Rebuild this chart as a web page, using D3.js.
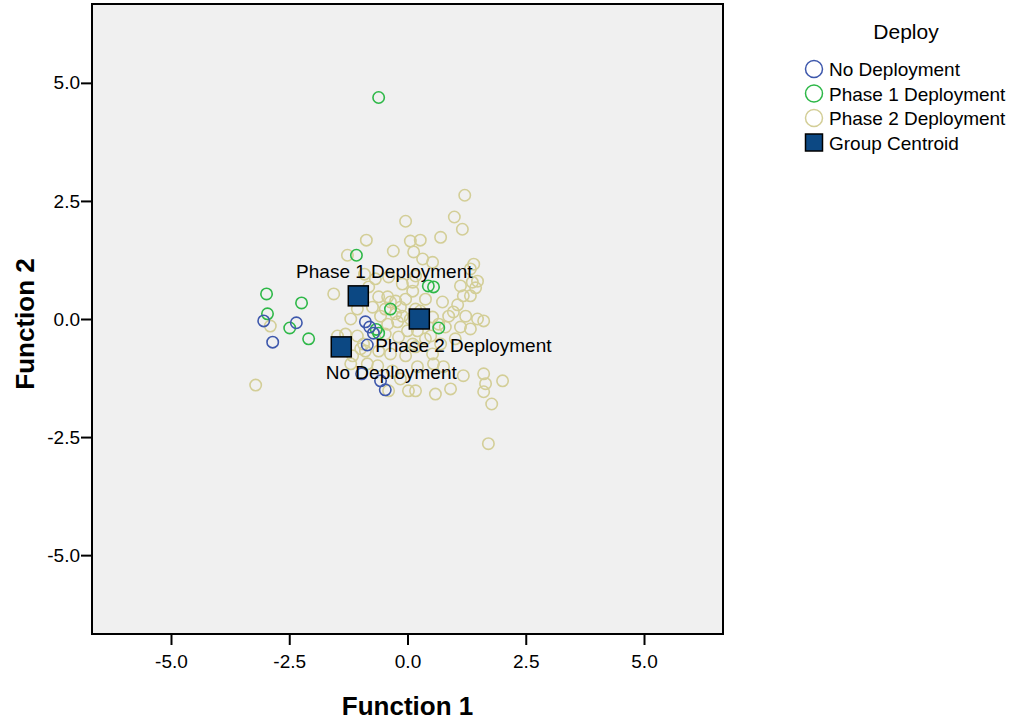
<!DOCTYPE html>
<html>
<head>
<meta charset="utf-8">
<script src="https://cdn.jsdelivr.net/npm/d3@7"></script>
<style>
  body { margin: 0; background: #fff; }
  text { font-family: Arial, 'Liberation Sans', sans-serif; }
</style>
</head>
<body>
<div id="chart"></div>
<script>
// discriminant scores, [function 1, function 2]
let noDeployment = [
  [-3.04, -0.04], [-2.85, -0.49], [-2.35, -0.08], [-0.89, -0.06], [-0.8, -0.17],
  [-0.72, -0.3], [-0.85, -0.55], [-0.97, -1.16], [-0.57, -1.31], [-0.47, -1.5]
]

let phase1 = [
  [-0.61, 4.69], [-1.08, 1.35], [-2.98, 0.53], [-2.24, 0.34], [-2.96, 0.11],
  [-2.49, -0.19], [-2.09, -0.42], [-0.36, 0.21], [0.44, 0.7], [0.55, 0.68],
  [-0.61, -0.3], [-0.66, -0.22], [0.66, -0.19]
]

let phase2 = [
  [1.21, 2.62], [0.99, 2.16], [1.16, 1.9], [-0.04, 2.07], [0.7, 1.73],
  [0.06, 1.65], [0.27, 1.67], [-0.87, 1.67], [-0.3, 1.44], [0.13, 1.42],
  [0.32, 1.27], [0.53, 1.2], [-1.27, 1.35], [-0.91, 0.95], [1.4, 1.16],
  [1.33, 1.06], [1.48, 0.8], [1.37, 0.78], [1.12, 0.7], [1.44, 0.66],
  [1.33, 0.49], [1.18, 0.49], [-1.56, 0.53], [-0.82, 0.68], [-0.68, 0.85],
  [-0.11, 0.74], [0.17, 0.91], [0.11, 0.59], [-0.42, 0.47], [-0.25, 0.38],
  [-0.36, 0.36], [-0.15, 0.25], [0.17, 0.21], [-0.11, 0.06], [-0.21, -0.06],
  [-0.42, -0.11], [-0.57, 0.06], [-0.74, 0.25], [-1.06, 0.21], [-1.2, 0.0],
  [-1.31, -0.32], [-0.47, -0.32], [0.0, -0.25], [0.38, 0.42], [0.74, 0.36],
  [0.97, 0.15], [0.87, 0.06], [1.23, 0.06], [1.48, 0.0], [1.61, -0.04],
  [1.12, -0.17], [1.33, -0.21], [0.8, -0.17], [0.49, -0.36], [0.21, -0.25],
  [-2.9, -0.15], [-3.21, -1.4], [-1.48, -0.36], [-1.06, -0.36], [-1.16, -0.78],
  [-0.89, -0.68], [-1.2, -0.95], [-0.93, -0.53], [-0.99, -0.63], [-0.85, -0.95],
  [-0.63, -0.99], [-0.32, -1.1], [-0.4, -1.52], [0.02, -1.52], [0.17, -1.52],
  [0.21, -1.01], [-0.04, -0.78], [0.17, -0.59], [0.53, -0.74], [0.55, -0.95],
  [0.76, -1.01], [1.18, -1.2], [1.61, -1.16], [1.65, -1.37], [1.61, -1.54],
  [1.78, -1.8], [2.01, -1.31], [0.59, -1.59], [0.91, -1.48], [1.71, -2.64],
  [0.11, 0.78], [-0.25, 0.11], [0.06, 0.0], [0.27, 0.17], [0.53, 0.04],
  [0.66, -0.11], [0.38, -0.42], [0.11, -0.53], [-0.19, -0.38], [-0.36, -0.74],
  [0.7, -0.53], [1.01, -0.42], [-0.47, 0.21], [-0.61, 0.47], [-0.04, 0.42],
  [-0.4, 0.89], [1.06, 0.3], [-0.61, -0.68], [-0.15, -1.27]
]

let groups = ['No Deployment', 'Phase 1 Deployment', 'Phase 2 Deployment']
let groupColors = ['#3e58ac', '#2eb848', '#d3ce97']
let centroidX = [-1.4, -1.04, 0.25]
let centroidY = [-0.59, 0.49, 0.0]
let tickValues = [-5, -2.5, 0, 2.5, 5]

let margin = { top: 4, left: 92, right: 292, bottom: 87 }
let width = 1015 - margin.left - margin.right
let height = 721 - margin.top - margin.bottom

let svg = d3
  .select('#chart')
  .append('svg')
  .attr('width', 1015)
  .attr('height', 721)

let g = svg
  .append('g')
  .attr('transform', 'translate(' + margin.left + ',' + margin.top + ')')

let xPositionScale = d3.scaleLinear().domain([-6.67, 6.67]).range([0, width])
let yPositionScale = d3.scaleLinear().domain([-6.67, 6.67]).range([height, 0])
let colorScale = d3.scaleOrdinal().domain(groups).range(groupColors)

// SPSS prints a plain hyphen, not the unicode minus
let tickFormat = d => d.toFixed(1)

g.append('rect')
  .attr('width', width)
  .attr('height', height)
  .attr('fill', '#f0f0f0')

// axes
let xAxis = d3
  .axisBottom(xPositionScale)
  .tickValues(tickValues)
  .tickFormat(tickFormat)
  .tickSize(11)
  .tickPadding(6)
g.append('g')
  .attr('class', 'axis x-axis')
  .attr('transform', 'translate(0,' + height + ')')
  .call(xAxis)

let yAxis = d3
  .axisLeft(yPositionScale)
  .tickValues(tickValues)
  .tickFormat(tickFormat)
  .tickSize(11)
  .tickPadding(1)
g.append('g')
  .attr('class', 'axis y-axis')
  .call(yAxis)

g.selectAll('.axis .domain').remove()
g.selectAll('.axis line').attr('stroke', '#000').attr('stroke-width', 2)
g.selectAll('.axis text')
  .attr('font-size', 19)
  .attr('fill', '#000')
  .style('font-family', 'Arial, Liberation Sans, sans-serif')
g.selectAll('.x-axis text').attr('dy', '0.9em')

// points
let allPoints = []
phase2.forEach(d => allPoints.push({ group: groups[2], x: d[0], y: d[1] }))
phase1.forEach(d => allPoints.push({ group: groups[1], x: d[0], y: d[1] }))
noDeployment.forEach(d => allPoints.push({ group: groups[0], x: d[0], y: d[1] }))

g.selectAll('.point')
  .data(allPoints)
  .enter()
  .append('circle')
  .attr('class', 'point')
  .attr('cx', d => xPositionScale(d.x))
  .attr('cy', d => yPositionScale(d.y))
  .attr('r', 5.7)
  .attr('fill', 'none')
  .attr('stroke', d => colorScale(d.group))
  .attr('stroke-width', 1.6)

// centroids
let centroids = groups.map((name, i) => {
  return { name: name, x: centroidX[i], y: centroidY[i] }
})

g.selectAll('.centroid')
  .data(centroids)
  .enter()
  .append('rect')
  .attr('class', 'centroid')
  .attr('x', d => xPositionScale(d.x) - 10)
  .attr('y', d => yPositionScale(d.y) - 10)
  .attr('width', 20)
  .attr('height', 20)
  .attr('fill', '#0c4883')
  .attr('stroke', '#000')
  .attr('stroke-width', 1.5)

// label placement relative to each centroid (dx, dy in px)
let labelShift = {
  'No Deployment': [50, 32],
  'Phase 1 Deployment': [26, -18],
  'Phase 2 Deployment': [44, 33]
}

g.selectAll('.centroid-label')
  .data(centroids)
  .enter()
  .append('text')
  .attr('class', 'centroid-label')
  .attr('x', d => xPositionScale(d.x) + labelShift[d.name][0])
  .attr('y', d => yPositionScale(d.y) + labelShift[d.name][1])
  .attr('text-anchor', 'middle')
  .attr('font-size', 19)
  .text(d => d.name)

// frame
g.append('rect')
  .attr('width', width)
  .attr('height', height)
  .attr('fill', 'none')
  .attr('stroke', '#000')
  .attr('stroke-width', 2)

// axis titles
svg
  .append('text')
  .attr('x', margin.left + width / 2)
  .attr('y', 715)
  .attr('text-anchor', 'middle')
  .attr('font-size', 26)
  .attr('font-weight', 'bold')
  .text('Function 1')

svg
  .append('text')
  .attr('transform', 'translate(34,' + (margin.top + height / 2 + 5) + ') rotate(-90)')
  .attr('text-anchor', 'middle')
  .attr('font-size', 26)
  .attr('font-weight', 'bold')
  .text('Function 2')

// legend
let legend = svg.append('g').attr('transform', 'translate(805,0)')

legend
  .append('text')
  .attr('x', 101)
  .attr('y', 39)
  .attr('text-anchor', 'middle')
  .attr('font-size', 21)
  .text('Deploy')

let legendItems = groups.concat(['Group Centroid'])

let item = legend
  .selectAll('.legend-item')
  .data(legendItems)
  .enter()
  .append('g')
  .attr('class', 'legend-item')
  .attr('transform', (d, i) => 'translate(0,' + (69 + i * 24.5) + ')')

item
  .filter(d => d !== 'Group Centroid')
  .append('circle')
  .attr('cx', 9)
  .attr('cy', 0)
  .attr('r', 8.5)
  .attr('fill', 'none')
  .attr('stroke', d => colorScale(d))
  .attr('stroke-width', 1.5)

item
  .filter(d => d === 'Group Centroid')
  .append('rect')
  .attr('x', 0.5)
  .attr('y', -8.5)
  .attr('width', 17)
  .attr('height', 17)
  .attr('fill', '#0c4883')
  .attr('stroke', '#000')
  .attr('stroke-width', 1.5)

item
  .append('text')
  .attr('x', 24)
  .attr('y', 7)
  .attr('font-size', 19)
  .text(d => d)
</script>
</body>
</html>
